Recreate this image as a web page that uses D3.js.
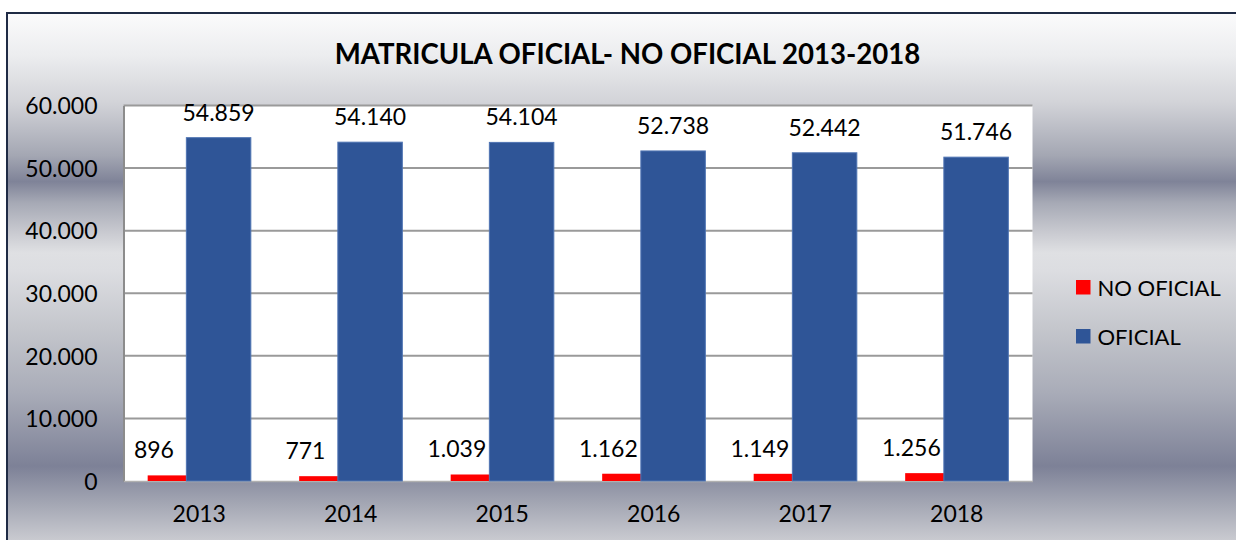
<!DOCTYPE html>
<html>
<head>
<meta charset="utf-8">
<script src="https://cdn.jsdelivr.net/npm/d3@7"></script>
<style>
  html, body { margin: 0; padding: 0; background: #ffffff; }
  svg { display: block; }
  text { font-family: Lato, "Open Sans", sans-serif; fill: #000; }
</style>
</head>
<body>
<svg id="chart" width="1236" height="540"></svg>
<script>
// ---- data ----
const title = "MATRICULA OFICIAL- NO OFICIAL 2013-2018";
const years = ["2013", "2014", "2015", "2016", "2017", "2018"];
const noOficial = [896, 771, 1039, 1162, 1149, 1256];
const oficial = [54859, 54140, 54104, 52738, 52442, 51746];
const seriesNames = ["NO OFICIAL", "OFICIAL"];
const seriesColors = ["#ff0000", "#2f5597"];
const yTicks = [0, 10000, 20000, 30000, 40000, 50000, 60000];

const W = 1236, H = 540;
const svg = d3.select("#chart");
const defs = svg.append("defs");

// chart background gradient
const grad = defs.append("linearGradient")
  .attr("id", "bg").attr("x1", 0).attr("y1", 0).attr("x2", 0).attr("y2", 1);
const stops = [
  [0.00, "#fbfbfc"], [0.08, "#ecedef"], [0.17, "#d2d3d8"], [0.27, "#a4a7b3"],
  [0.32, "#7f8398"], [0.36, "#a6a9b5"], [0.42, "#cbccd2"], [0.455, "#dfe0e3"],
  [0.49, "#dcdde1"], [0.60, "#c4c6cc"], [0.72, "#a9acb8"], [0.86, "#7d8197"],
  [0.93, "#a3a6b3"], [1.00, "#c9cad0"]
];
grad.selectAll("stop").data(stops).join("stop")
  .attr("offset", d => d[0]).attr("stop-color", d => d[1]);

svg.append("rect").attr("x", 7).attr("y", 13).attr("width", W - 7).attr("height", H - 13)
  .attr("fill", "url(#bg)");
// frame border
svg.append("path").attr("d", `M7,${H} V13 H${W}`)
  .attr("fill", "none").attr("stroke", "#1f2b45").attr("stroke-width", 2);

// ---- scales ----
const plot = { left: 123.5, right: 1032.5, top: 105.5, bottom: 481 };
const x = d3.scaleBand().domain(years).range([plot.left, plot.right]).padding(0);
const y = d3.scaleLinear().domain([0, 60000]).range([plot.bottom, plot.top]);
const bw = x.bandwidth();
const barW = bw / 2.35;          // gap width 75%, overlap 40%
const redOff = 0.375 * barW;
const blueOff = redOff + 0.6 * barW;

const locale = d3.formatLocale({ decimal: ",", thousands: ".", grouping: [3], currency: ["", ""] });
const fmt = locale.format(",d");

// plot area
svg.append("rect").attr("x", plot.left).attr("y", plot.top)
  .attr("width", plot.right - plot.left).attr("height", plot.bottom - plot.top)
  .attr("fill", "#ffffff");

// gridlines
svg.append("g").selectAll("line").data(yTicks.filter(t => t > 0)).join("line")
  .attr("x1", plot.left).attr("x2", plot.right)
  .attr("y1", d => y(d)).attr("y2", d => y(d))
  .attr("stroke", "#9a9a9a").attr("stroke-width", 2);

// y axis
const yAxis = svg.append("g").attr("transform", `translate(${plot.left},0)`)
  .call(d3.axisLeft(y).tickValues(yTicks).tickFormat(fmt).tickSize(0).tickPadding(26));
yAxis.select(".domain").attr("stroke", "#8c8c8c").attr("stroke-width", 2);
yAxis.selectAll("text").attr("font-size", 23).attr("font-family", "Lato, sans-serif")
  .attr("fill", "#000").attr("dy", "0.36em");

// x axis
const xAxis = svg.append("g").attr("transform", `translate(0,${plot.bottom})`)
  .call(d3.axisBottom(x).tickSize(0).tickPadding(25));
xAxis.select(".domain").attr("stroke", "#b0b0b0").attr("stroke-width", 1.5);
xAxis.selectAll("text").attr("font-size", 23).attr("font-family", "Lato, sans-serif")
  .attr("fill", "#000");

// bars
const redData = years.map((yr, i) => ({ yr, v: noOficial[i] }));
const blueData = years.map((yr, i) => ({ yr, v: oficial[i] }));

svg.append("g").selectAll("rect").data(redData).join("rect")
  .attr("x", d => x(d.yr) + redOff).attr("width", barW)
  .attr("y", d => y(d.v)).attr("height", d => y(0) - y(d.v))
  .attr("fill", seriesColors[0]);

svg.append("g").selectAll("rect").data(blueData).join("rect")
  .attr("x", d => x(d.yr) + blueOff).attr("width", barW)
  .attr("y", d => y(d.v)).attr("height", d => y(0) - y(d.v))
  .attr("fill", seriesColors[1]).attr("stroke", "#4f74b3").attr("stroke-width", 1);

// data labels
svg.append("g").selectAll("text").data(blueData).join("text")
  .attr("x", d => x(d.yr) + blueOff + barW / 2).attr("y", d => y(d.v) - 17)
  .attr("text-anchor", "middle").attr("font-size", 23).text(d => fmt(d.v));

svg.append("g").selectAll("text").data(redData).join("text")
  .attr("x", d => x(d.yr) + redOff + barW / 2 - 26).attr("y", d => y(d.v) - 17)
  .attr("text-anchor", "middle").attr("font-size", 23).text(d => fmt(d.v));

// title
svg.append("text").attr("x", 627.5).attr("y", 63.5).attr("text-anchor", "middle")
  .attr("font-size", 27.6).attr("font-weight", "bold").text(title);

// legend
const leg = svg.append("g").selectAll("g").data(seriesNames).join("g")
  .attr("transform", (d, i) => `translate(1076,${280 + i * 49})`);
leg.append("rect").attr("width", 14.5).attr("height", 14.5)
  .attr("fill", (d, i) => seriesColors[i]);
leg.append("text").attr("x", 21.5).attr("y", 15.7).attr("font-size", 22).text(d => d);
</script>
</body>
</html>
